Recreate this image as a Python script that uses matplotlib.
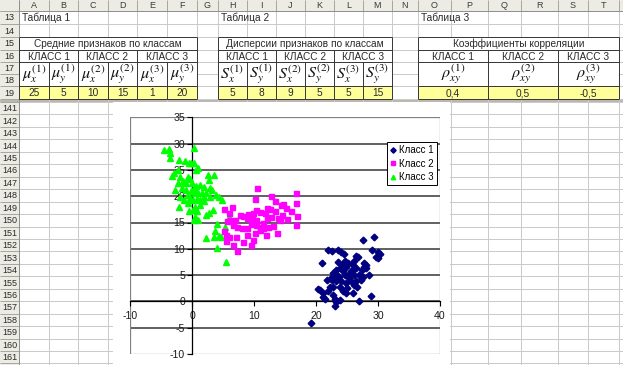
import matplotlib
matplotlib.use('Agg')
import matplotlib.pyplot as plt
from matplotlib.patches import Rectangle

plt.rcParams['font.family'] = ['Liberation Sans', 'DejaVu Sans']
plt.rcParams['mathtext.fontset'] = 'stix'

# ---------------- data ----------------
class1_x = [29.3, 27.5, 22.0, 22.6, 23.5, 24.0, 24.5, 29.1, 30.0, 30.3, 29.7, 30.0, 26.4, 26.8, 20.9,
            25.2, 24.9, 26.1, 26.0, 27.8, 27.7, 27.4, 28.1, 23.2, 23.8, 24.4, 22.8, 23.4, 23.7, 24.6,
            25.2, 25.3, 26.1, 26.9, 28.5, 21.7, 22.5, 23.3, 24.1, 24.9, 26.5, 22.2, 22.8, 23.9, 24.3,
            24.9, 26.1, 26.6, 25.9, 20.3, 20.6, 21.1, 21.2, 21.5, 22.8, 23.0, 23.3, 23.1, 23.8, 26.9,
            28.8, 19.2, 24.6, 24.2, 23.6, 25.6, 26.0, 27.3, 27.6, 22.5, 22.0, 25.0, 25.6, 28.1, 26.5]
class1_y = [12.3, 11.7, 9.8, 9.5, 9.8, 9.3, 9.0, 9.8, 9.3, 9.0, 8.5, 8.2, 8.7, 8.5, 7.3,
            7.3, 6.6, 7.6, 7.0, 7.3, 6.6, 6.0, 6.3, 6.0, 6.3, 5.7, 5.4, 5.1, 4.7, 5.1,
            5.1, 4.4, 5.1, 5.1, 5.1, 4.1, 4.1, 3.8, 3.8, 3.5, 3.8, 2.8, 2.8, 2.8, 1.9,
            1.6, 3.2, 2.8, 1.6, 2.3, 2.1, 1.6, 0.9, 0.4, 1.3, 0.4, -0.2, -0.8, 0.3, 0.0,
            1.1, -4.2, 7.6, 7.0, 7.4, 5.7, 6.0, 4.1, 4.7, 4.7, 1.9, 2.5, 3.8, 7.0, 6.3]

class2_x = [10.55, 10.2, 16.7, 12.8, 16.8, 16.9, 16.8, 5.1, 6.5, 5.9, 7.8, 8.3, 9.1, 9.8, 10.4,
            10.9, 11.8, 12.5, 13.4, 14.4, 14.7, 15.1, 14.5, 16.0, 15.3, 14.2, 12.7, 12.1, 11.5, 10.9,
            10.4, 9.9, 9.5, 8.8, 8.0, 7.2, 6.6, 6.2, 5.6, 5.1, 5.5, 5.9, 5.5, 6.6, 7.3,
            8.2, 7.1, 8.9, 9.5, 9.8, 10.2, 11.0, 11.5, 11.9, 13.1, 13.7, 12.3, 12.1, 13.4, 8.8,
            9.6, 6.9, 10.3, 13.9]
class2_y = [21.5, 19.5, 20.6, 20.1, 18.7, 16.2, 14.5, 17.5, 18.0, 16.8, 16.5, 16.3, 16.6, 16.8, 17.3,
            17.0, 16.8, 17.5, 17.2, 18.3, 18.5, 17.7, 16.5, 17.1, 15.7, 15.5, 16.1, 15.8, 15.0, 14.2,
            14.6, 15.5, 14.7, 13.9, 13.9, 14.2, 14.6, 15.5, 15.2, 13.3, 12.7, 12.2, 11.4, 10.8, 9.6,
            11.2, 12.3, 12.7, 10.7, 11.7, 13.0, 13.6, 13.9, 12.7, 14.4, 13.0, 14.2, 17.8, 19.0, 15.8,
            16.0, 15.4, 15.5, 15.8]

class3_x = [-4.55, -3.7, -3.6, -3.6, -2.1, -1.1, -0.5, -0.2, 0.3, 0.4, 0.9, 0.6, -0.7, -2.3, -2.9,
            -3.2, -1.9, -1.4, -0.9, -0.3, 0.0, 0.4, 0.7, -2.3, -1.6, -0.9, -2.8, -0.2, 0.5, -0.3,
            0.2, 0.8, 1.3, 1.9, 1.6, 2.3, 2.9, 3.2, 2.7, 3.5, 2.5, 3.9, 4.3, 4.8, 2.9,
            2.0, 1.3, 0.5, 0.2, -0.5, 0.8, 0.5, 0.9, 0.3, 2.3, 2.7, 3.4, 2.2, 3.6, 4.3,
            4.1, 3.7, 4.0, 5.5, 5.9, 4.6, 5.4, -2.1, -0.7, -1.3, -2.0, -0.7, 1.3, 1.9, 1.0]
class3_y = [28.7, 28.9, 28.2, 27.2, 26.9, 26.6, 26.4, 26.3, 26.3, 29.2, 25.3, 24.9, 23.7, 24.9, 24.5,
            23.9, 23.7, 22.8, 22.6, 23.2, 22.5, 21.5, 22.0, 22.5, 21.5, 21.1, 21.1, 20.9, 20.6, 19.6,
            19.3, 19.4, 19.3, 19.9, 20.6, 20.7, 21.5, 21.1, 23.1, 24.1, 24.1, 20.3, 19.8, 19.2, 19.9,
            19.0, 18.4, 18.0, 17.4, 17.1, 17.1, 16.0, 15.4, 15.5, 16.5, 16.8, 17.4, 12.0, 12.3, 12.5,
            14.7, 13.3, 10.1, 7.4, 16.0, 12.2, 14.2, 17.9, 18.8, 19.3, 19.9, 20.3, 22.2, 21.8, 20.6]

series_labels = ['Класс 1', 'Класс 2', 'Класс 3']
x_ticks = [-10, 0, 10, 20, 30, 40]
y_ticks = [-10, -5, 0, 5, 10, 15, 20, 25, 30, 35]

col_letters = ['A', 'B', 'C', 'D', 'E', 'F', 'G', 'H', 'I', 'J', 'K', 'L', 'M', 'N', 'O', 'P', 'Q', 'R', 'S', 'T']
top_rows = [13, 14, 15, 16, 17, 18, 19]
bottom_rows = list(range(141, 162))

table_titles = ['Таблица 1', 'Таблица 2', 'Таблица 3']
table_headers = ['Средние признаков по классам', 'Дисперсии признаков по классам', 'Коэффициенты корреляции']
class_headers = ['КЛАСС 1', 'КЛАСС 2', 'КЛАСС 3']
mean_symbols = [r'$\mu_x^{(1)}$', r'$\mu_y^{(1)}$', r'$\mu_x^{(2)}$', r'$\mu_y^{(2)}$', r'$\mu_x^{(3)}$', r'$\mu_y^{(3)}$']
var_symbols = [r'$S_x^{(1)}$', r'$S_y^{(1)}$', r'$S_x^{(2)}$', r'$S_y^{(2)}$', r'$S_x^{(3)}$', r'$S_y^{(3)}$']
corr_symbols = [r'$\rho_{xy}^{(1)}$', r'$\rho_{xy}^{(2)}$', r'$\rho_{xy}^{(3)}$']
means = [25, 5, 10, 15, 1, 20]
variances = [5, 8, 9, 5, 5, 15]
correlations = [0.4, 0.5, -0.5]

# ---------------- layout (pixels) ----------------
W, H = 623, 365
PX = 0.72
col_edges = [19, 49, 78, 108, 137, 167, 197, 218, 247, 276, 305, 334, 363, 392, 418, 451, 488, 521, 558, 588, 619, 660]
top_edges = [11, 24, 37, 50, 62, 74, 86, 99]
bot_edges = [102 + 12.45 * k for k in range(22)]

fig = plt.figure(figsize=(W / 100, H / 100), dpi=100)
bg = fig.add_axes([0, 0, 1, 1])
bg.set_xlim(0, W)
bg.set_ylim(H, 0)
bg.axis('off')

grid_c = '#CACACA'
head_bg = '#ECEBE4'
head_line = '#A8A8A0'

# cell gridlines
for x in col_edges:
    bg.vlines(x, 11, H, color=grid_c, lw=PX)
for y in top_edges + bot_edges:
    bg.hlines(y, 19, W, color=grid_c, lw=PX)

# column header
bg.add_patch(Rectangle((0, 0), W, 11, facecolor=head_bg, edgecolor='none'))
for x in col_edges:
    bg.vlines(x, 0, 11, color=head_line, lw=PX)
bg.hlines(11, 0, W, color='#909090', lw=PX)
for i, c in enumerate(col_letters):
    bg.text((col_edges[i] + col_edges[i + 1]) / 2, 5.8, c, ha='center', va='center', fontsize=6.5, color='#3A3A3A')

# row header
bg.add_patch(Rectangle((0, 11), 19, H - 11, facecolor=head_bg, edgecolor='none'))
for y in top_edges + bot_edges:
    bg.hlines(y, 0, 19, color=head_line, lw=PX)
bg.vlines(19, 0, H, color='#909090', lw=PX)
for i, r in enumerate(top_rows):
    bg.text(9.5, (top_edges[i] + top_edges[i + 1]) / 2 + 0.5, str(r), ha='center', va='center', fontsize=6.5, color='#2A2A2A')
for i, r in enumerate(bottom_rows):
    bg.text(9.5, (bot_edges[i] + bot_edges[i + 1]) / 2 + 0.5, str(r), ha='center', va='center', fontsize=6.5, color='#2A2A2A')

# freeze split bar
bg.add_patch(Rectangle((0, 99.5), W, 2.5, facecolor='#B8B8B0', edgecolor='none'))

# ---------------- tables ----------------
border_c = '#3A3A3A'
yellow = '#FFFF99'
tcol = '#2A2A2A'


def table(c0, title, header, symbols, values, per_col):
    x0 = col_edges[c0]
    x1 = col_edges[c0 + 6]
    ytop, y15, y16, y18, y19 = top_edges[2], top_edges[3], top_edges[4], top_edges[6], top_edges[7]
    bg.add_patch(Rectangle((x0, ytop), x1 - x0, y19 - ytop, facecolor='white', edgecolor='none', zorder=2))
    bg.add_patch(Rectangle((x0, y18), x1 - x0, y19 - y18, facecolor=yellow, edgecolor='none', zorder=2))
    bg.text(x0 + 3, (top_edges[0] + top_edges[1]) / 2 + 0.5, title, ha='left', va='center', fontsize=7.3, color=tcol, zorder=5)
    bg.text((x0 + x1) / 2, (ytop + y15) / 2 + 0.5, header, ha='center', va='center', fontsize=7.3, color=tcol, zorder=5)
    for k in range(3):
        a = col_edges[c0 + 2 * k]
        b = col_edges[c0 + 2 * k + 2]
        bg.text((a + b) / 2, (y15 + y16) / 2 + 0.5, class_headers[k], ha='center', va='center', fontsize=7.3, color=tcol, zorder=5)
    lines_h = [ytop, y15, y16, y18, y19]
    for y in lines_h:
        bg.hlines(y, x0, x1, color=border_c, lw=PX, zorder=4)
    bg.vlines([x0, x1], ytop, y19, color=border_c, lw=PX, zorder=4)
    for k in range(1, 3):
        bg.vlines(col_edges[c0 + 2 * k], y15, y19, color=border_c, lw=PX, zorder=4)
    if per_col:
        for k in range(1, 6):
            bg.vlines(col_edges[c0 + k], y16, y19, color=border_c, lw=PX, zorder=4)
        for k in range(6):
            cx = (col_edges[c0 + k] + col_edges[c0 + k + 1]) / 2
            bg.text(cx, (y16 + y18) / 2 + 0.5, symbols[k], ha='center', va='center', fontsize=11.5, color='#111111', zorder=5)
            bg.text(cx, (y18 + y19) / 2 + 0.5, values[k], ha='center', va='center', fontsize=7.3, color=tcol, zorder=5)
    else:
        for k in range(3):
            cx = (col_edges[c0 + 2 * k] + col_edges[c0 + 2 * k + 2]) / 2
            bg.text(cx, (y16 + y18) / 2 + 0.5, symbols[k], ha='center', va='center', fontsize=11.5, color='#111111', zorder=5)
            bg.text(cx, (y18 + y19) / 2 + 0.5, values[k], ha='center', va='center', fontsize=7.3, color=tcol, zorder=5)


table(0, table_titles[0], table_headers[0], mean_symbols, [str(v) for v in means], True)
table(7, table_titles[1], table_headers[1], var_symbols, [str(v) for v in variances], True)
table(14, table_titles[2], table_headers[2], corr_symbols, [('%g' % v).replace('.', ',') for v in correlations], False)

# ---------------- chart ----------------
bg.add_patch(Rectangle((113, 102), 450 - 113, H - 102, facecolor='white', edgecolor='none', zorder=6))

pl, pr, pt, pb = 130, 440, 117.3, 354
ax = fig.add_axes([pl / W, (H - pb) / H, (pr - pl) / W, (pb - pt) / H])
ax.set_zorder(10)
ax.set_xlim(-10, 40)
ax.set_ylim(-10, 35)
ax.set_facecolor('none')

for y in y_ticks:
    if -10 < y < 35:
        ax.axhline(y, color='#363636', lw=1.1, zorder=1)
ax.add_patch(Rectangle((0, 0), 1, 1, transform=ax.transAxes, facecolor='none', edgecolor='#808080', lw=0.9, zorder=1))

ax.spines['top'].set_visible(False)
ax.spines['right'].set_visible(False)
ax.spines['left'].set_position(('data', 0))
ax.spines['bottom'].set_position(('data', 0))
for s in ['left', 'bottom']:
    ax.spines[s].set_color('#000000')
    ax.spines[s].set_linewidth(0.9)
    ax.spines[s].set_zorder(2)

ax.set_xticks(x_ticks)
ax.set_yticks(y_ticks)
ax.set_xticklabels([str(v) for v in x_ticks])
ax.set_yticklabels([str(v) for v in y_ticks])
ax.tick_params(axis='x', direction='out', length=3.5, width=0.8, pad=3.5, labelsize=7.6, colors='#000000')
ax.tick_params(axis='y', direction='out', length=3.5, width=0.8, pad=1.5, labelsize=7.6, colors='#000000')
for lbl in ax.get_xticklabels() + ax.get_yticklabels():
    lbl.set_color('#1A1A1A')

h1, = ax.plot(class1_x, class1_y, linestyle='none', marker='D', ms=3.4, color='#000080', mec='#000080', zorder=5, label=series_labels[0])
h2, = ax.plot(class2_x, class2_y, linestyle='none', marker='s', ms=3.6, color='#FF00FF', mec='#FF00FF', zorder=4, label=series_labels[1])
h3, = ax.plot(class3_x, class3_y, linestyle='none', marker='^', ms=4.0, color='#00FF00', mec='#00FF00', zorder=3, label=series_labels[2])

leg = ax.legend(handles=[h1, h2, h3], loc='upper left', bbox_to_anchor=(387 / W, 1 - 142 / H),
                bbox_transform=fig.transFigure, borderaxespad=0, fontsize=7.0, frameon=True, fancybox=False,
                handlelength=0.6, handletextpad=0.35, borderpad=0.3, labelspacing=0.38, markerscale=0.8)
leg.get_frame().set_edgecolor('#000000')
leg.get_frame().set_linewidth(0.7)
leg.get_frame().set_facecolor('white')
leg.get_frame().set_alpha(1)

fig.savefig('out.png', dpi=100)
